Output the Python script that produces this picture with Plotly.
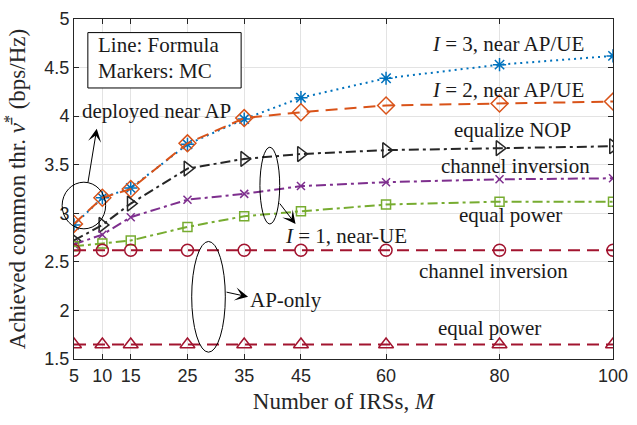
import plotly.graph_objects as go

M = [5, 10, 15, 25, 35, 45, 60, 80, 100]

i3_near = [2.88, 3.16, 3.26, 3.71, 3.97, 4.19, 4.39, 4.53, 4.62]
i2_near = [2.89, 3.16, 3.25, 3.72, 3.98, 4.04, 4.11, 4.13, 4.15]
i1_nop = [2.72, 2.88, 3.10, 3.46, 3.56, 3.61, 3.65, 3.67, 3.69]
i1_ci = [2.68, 2.78, 2.96, 3.14, 3.20, 3.28, 3.32, 3.35, 3.36]
i1_ep = [2.66, 2.69, 2.72, 2.86, 2.97, 3.02, 3.09, 3.12, 3.12]
ap_ci = [2.62] * 9
ap_ep = [1.65] * 9

y_ticks = [1.5, 2, 2.5, 3, 3.5, 4, 4.5, 5]
y_tick_text = ["1.5", "2", "2.5", "3", "3.5", "4", "4.5", "5"]

series = [
    (i3_near, "#0072BD", "2px,4px", "asterisk-open", 11),
    (i2_near, "#D95319", "12px,7px", "diamond-open", 13),
    (i1_nop, "#262626", "10px,4px,3px,4px", "triangle-right-open", 13),
    (i1_ci, "#7E2F8E", "10px,4px,3px,4px", "x-thin-open", 8),
    (i1_ep, "#77AC30", "10px,4px,3px,4px", "square-open", 9),
    (ap_ci, "#A2142F", "12px,7px", "circle-open", 12),
    (ap_ep, "#A2142F", "12px,7px", "triangle-up-open", 13),
]

fig = go.Figure()
for vals, col, dash, sym, sz in series:
    fig.add_trace(go.Scatter(
        x=M, y=vals, mode="lines+markers",
        line=dict(color=col, width=2, dash=dash),
        marker=dict(symbol=sym, size=sz, color=col,
                    line=dict(color=col, width=1.5)),
        showlegend=False,
    ))

serif = "Liberation Serif"
tick_font = dict(family="Liberation Sans", size=18, color="#262626")

fig.update_layout(
    width=637, height=425,
    margin=dict(l=74, r=18, t=9, b=66),
    paper_bgcolor="white", plot_bgcolor="white",
    xaxis=dict(
        range=[5, 100], tickvals=M, ticktext=[str(m) for m in M],
        ticks="inside", ticklen=5, tickcolor="#262626",
        showline=True, linecolor="#262626", linewidth=1, mirror="ticks",
        showgrid=True, gridcolor="#e3e3e3", gridwidth=1, zeroline=False,
        tickfont=tick_font,
        title=dict(text="Number of IRSs, <i>M</i>",
                   font=dict(family=serif, size=23, color="#262626"), standoff=8),
    ),
    yaxis=dict(
        range=[1.5, 5], tickvals=y_ticks, ticktext=y_tick_text,
        ticks="inside", ticklen=5, tickcolor="#262626",
        showline=True, linecolor="#262626", linewidth=1, mirror="ticks",
        showgrid=True, gridcolor="#e3e3e3", gridwidth=1, zeroline=False,
        tickfont=tick_font,
        title=dict(text="Achieved common thr. <i>ν̄</i><sup>*</sup> (bps/Hz)",
                   font=dict(family=serif, size=23, color="#262626"), standoff=12),
    ),
)

def px_x(p):
    return (p - 74) / 545.0

def px_y(p):
    return (359 - p) / 350.0

shapes = [
    dict(type="rect", xref="paper", yref="paper",
         x0=px_x(88), x1=px_x(243), y0=px_y(80), y1=px_y(23),
         line=dict(color="black", width=1), fillcolor="white", layer="above"),
    dict(type="circle", xref="paper", yref="paper",
         x0=px_x(62), x1=px_x(106), y0=px_y(225), y1=px_y(177),
         line=dict(color="black", width=1)),
    dict(type="circle", xref="paper", yref="paper",
         x0=px_x(262), x1=px_x(282), y0=px_y(220), y1=px_y(141),
         line=dict(color="black", width=1)),
    dict(type="circle", xref="paper", yref="paper",
         x0=px_x(193), x1=px_x(227), y0=px_y(352), y1=px_y(238),
         line=dict(color="black", width=1)),
]
fig.update_layout(shapes=shapes)

tf = dict(family=serif, size=21, color="#1a1a1a")
texts = [
    ("Line: Formula", 96, 36, "left"),
    ("Markers: MC", 96, 63, "left"),
    ("<i>I</i> = 3, near AP/UE", 592, 35, "right"),
    ("<i>I</i> = 2, near AP/UE", 592, 82, "right"),
    ("equalize NOP", 517, 123, "center"),
    ("channel inversion", 520, 160, "center"),
    ("equal power", 515, 211, "center"),
    ("<i>I</i> = 1, near-UE", 349, 232, "center"),
    ("channel inversion", 498, 268, "center"),
    ("equal power", 494, 327, "center"),
    ("AP-only", 250, 298, "left"),
    ("deployed near AP", 157, 104, "center"),
]
for t, x, y, anc in texts:
    fig.add_annotation(text=t, xref="paper", yref="paper", x=px_x(x), y=px_y(y),
                       xanchor=anc, yanchor="middle", showarrow=False, font=tf)

arrows = [
    ((97, 122), (88, 177)),
    ((298, 220), (281, 198)),
    ((250, 295), (227, 290)),
]
for (hx, hy), (tx, ty) in arrows:
    fig.add_annotation(text="", xref="paper", yref="paper", x=px_x(hx), y=px_y(hy),
                       ax=tx - hx, ay=ty - hy, axref="pixel", ayref="pixel",
                       showarrow=True, arrowhead=3, arrowsize=2.2, arrowwidth=1,
                       arrowcolor="black")

fig.write_html("out.html")
